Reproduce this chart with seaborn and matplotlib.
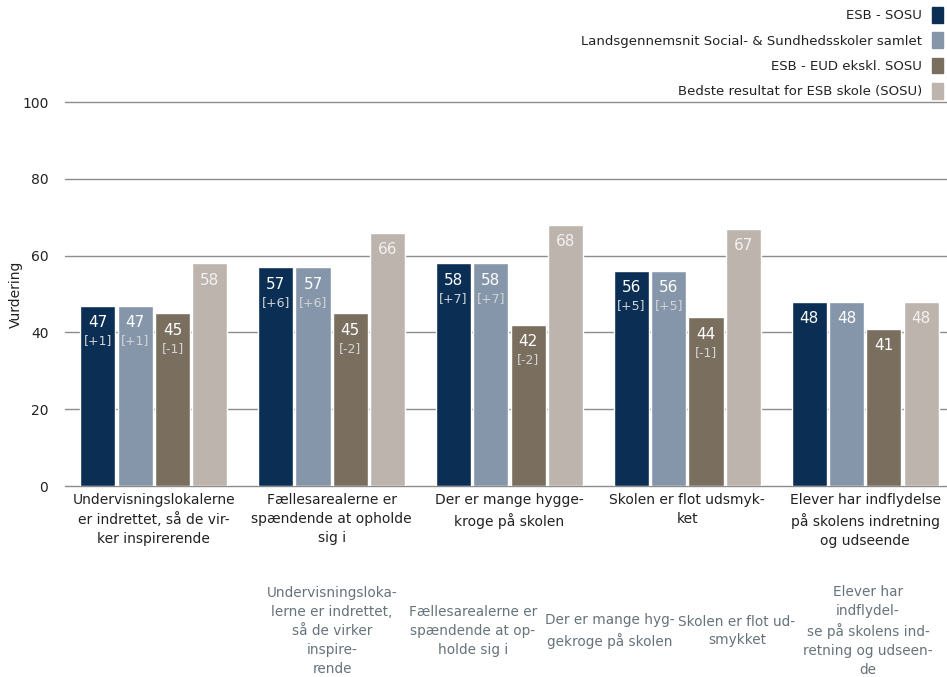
import matplotlib
matplotlib.use("Agg")
import matplotlib.pyplot as plt
import seaborn as sns
import pandas as pd

# data
categories = [
    "Undervisningslokalerne\ner indrettet, så de vir-\nker inspirerende",
    "Fællesarealerne er\nspændende at opholde\nsig i",
    "Der er mange hygge-\nkroge på skolen",
    "Skolen er flot udsmyk-\nket",
    "Elever har indflydelse\npå skolens indretning\nog udseende",
]
extra_labels = [
    "Undervisningsloka-\nlerne er indrettet,\nså de virker\ninspire-\nrende",
    "Fællesarealerne er\nspændende at op-\nholde sig i",
    "Der er mange hyg-\ngekroge på skolen",
    "Skolen er flot ud-\nsmykket",
    "Elever har\nindflydel-\nse på skolens ind-\nretning og udseen-\nde",
]
series = [
    "ESB - SOSU",
    "Landsgennemsnit Social- & Sundhedsskoler samlet",
    "ESB - EUD ekskl. SOSU",
    "Bedste resultat for ESB skole (SOSU)",
]
esb_sosu = [47, 57, 58, 56, 48]
lands = [47, 57, 58, 56, 48]
esb_eud = [45, 45, 42, 44, 41]
best = [58, 66, 68, 67, 48]
esb_sosu_delta = ["[+1]", "[+6]", "[+7]", "[+5]", ""]
lands_delta = ["[+1]", "[+6]", "[+7]", "[+5]", ""]
esb_eud_delta = ["[-1]", "[-2]", "[-2]", "[-1]", ""]
best_delta = ["", "", "", "", ""]

colors = ["#0b2e55", "#8596aa", "#7a6e5f", "#bcb4ad"]

values = [esb_sosu, lands, esb_eud, best]
deltas = [esb_sosu_delta, lands_delta, esb_eud_delta, best_delta]

rows = []
for s, vals in zip(series, values):
    for c, v in zip(categories, vals):
        rows.append({"kategori": c, "serie": s, "vurdering": v})
df = pd.DataFrame(rows)

sns.set_style("white")
plt.rcParams["font.family"] = ["DejaVu Sans"]

fig = plt.figure(figsize=(9.47, 6.77), dpi=100)
ax = fig.add_axes([65 / 947, 1 - 486 / 677, 889 / 947, 384 / 677])

sns.barplot(data=df, x="kategori", y="vurdering", hue="serie", hue_order=series,
            order=categories, palette=colors, width=0.84, gap=0.06,
            saturation=1, errorbar=None, legend=False, ax=ax)

ax.set_ylim(0, 100)
ax.set_yticks([0, 20, 40, 60, 80, 100])
ax.grid(axis="y", color="#8c8c8c", linewidth=1)
for gl in ax.get_ygridlines():
    gl.set_clip_on(False)
ax.set_axisbelow(True)
for sp in ax.spines.values():
    sp.set_visible(False)
ax.tick_params(axis="both", length=0, labelsize=10, colors="#222222")
ax.tick_params(axis="y", pad=12)
ax.tick_params(axis="x", pad=5)
for lbl in ax.get_xticklabels():
    lbl.set_linespacing(1.45)
ax.set_xlabel("")
ax.set_ylabel("Vurdering", fontsize=10, color="#222222")
ax.yaxis.set_label_coords(-42 / 889, 0.5)

# value labels
for i, (cont, vals, dls) in enumerate(zip(ax.containers, values, deltas)):
    for bar, v, d in zip(cont, vals, dls):
        x = bar.get_x() + bar.get_width() / 2
        top = bar.get_height()
        col = "white" if i < 3 else "#f4f1ee"
        ax.annotate(str(v), (x, top), xytext=(0, -17), textcoords="offset pixels",
                    ha="center", va="center", color=col, fontsize=11)
        if d:
            ax.annotate(d, (x, top), xytext=(0, -35), textcoords="offset pixels",
                        ha="center", va="center", color="#d4d4d4", fontsize=9)

# legend top right
handles = [plt.Rectangle((0, 0), 1, 1, color=c) for c in colors]
fig.legend(handles, series, loc="upper right", bbox_to_anchor=(1.0, 1 - 3 / 677),
           frameon=False, markerfirst=False, fontsize=9.5, handlelength=0.85,
           handleheight=1.45, handletextpad=0.75, labelspacing=0.74,
           borderaxespad=0.1, borderpad=0.2, labelcolor="#222222")

# extra grey label block at the bottom
extra_x = [332, 473, 610, 737, 868]
for xp, txt in zip(extra_x, extra_labels):
    fig.text(xp / 947, 1 - 631 / 677, txt, ha="center", va="center",
             fontsize=9.8, color="#66737a", linespacing=1.45)

fig.savefig("out.png", dpi=100)
